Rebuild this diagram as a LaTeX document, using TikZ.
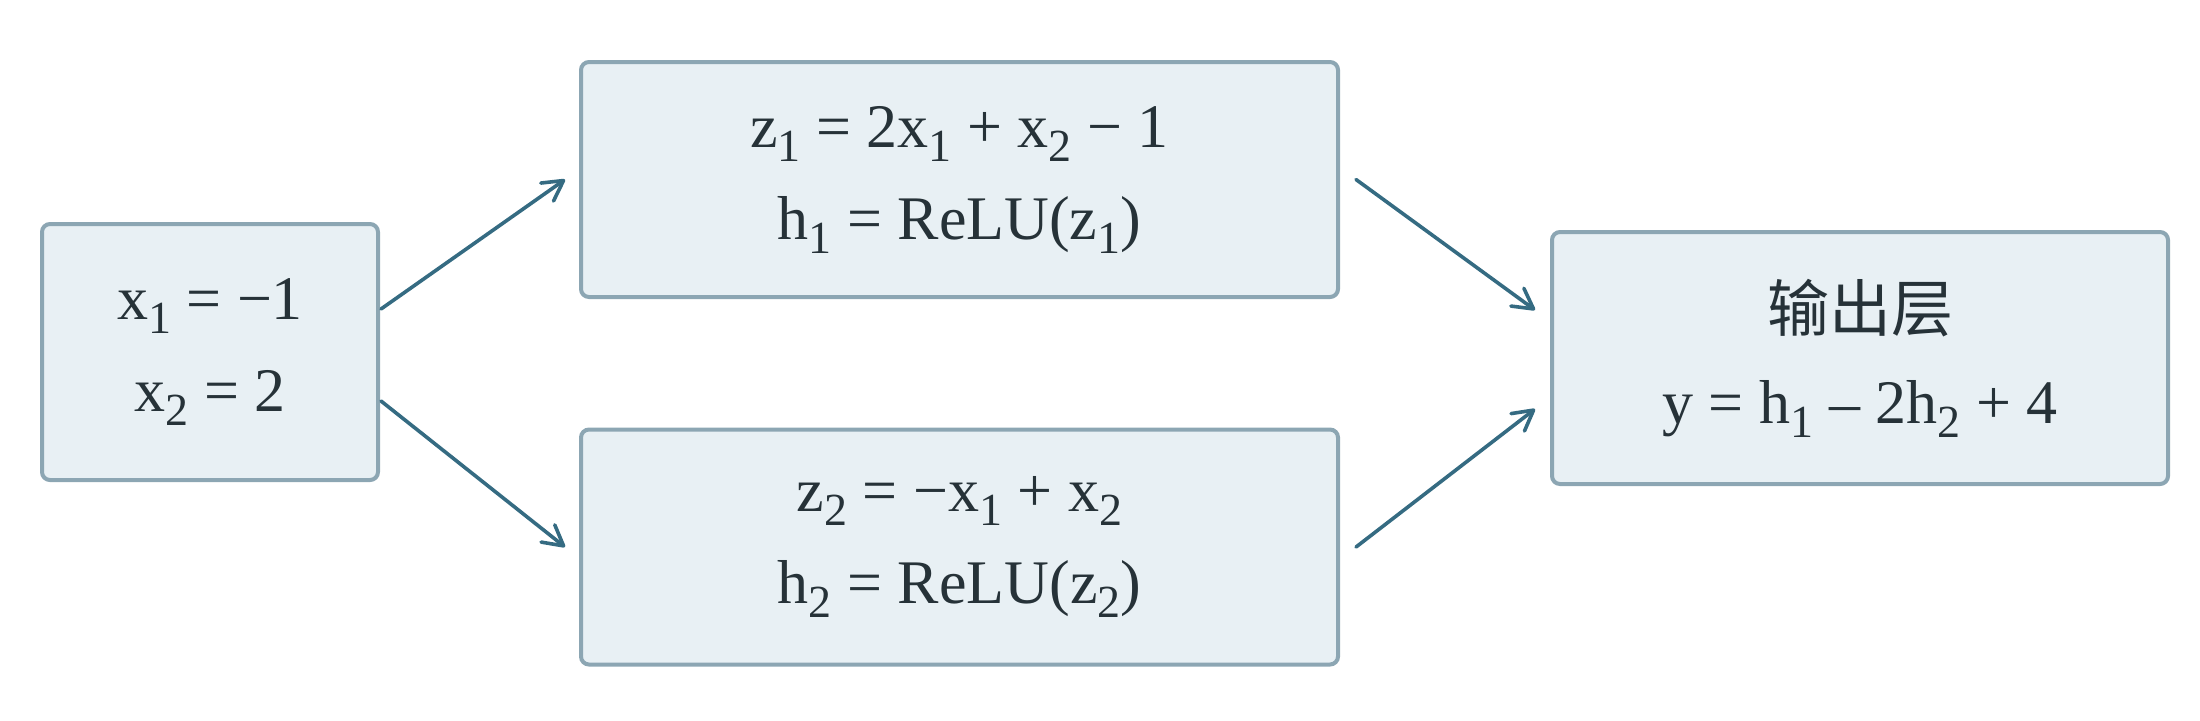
\documentclass[tikz,border=0pt]{standalone}
\usepackage{fontspec}
\setmainfont{Liberation Serif}
\newfontfamily\cjk{Noto Sans CJK SC}
\usetikzlibrary{arrows.meta,calc}
\definecolor{boxfill}{HTML}{E8F0F4}
\definecolor{boxline}{HTML}{8CA6B3}
\definecolor{arrowc}{HTML}{356B82}
\definecolor{txt}{HTML}{263238}
\newcommand\sbs[1]{\raisebox{-7pt}{\fontsize{23}{23}\selectfont #1}}
\begin{document}
\begin{tikzpicture}[x=0.5pt,y=-0.5pt,
  layerbox/.style={draw=boxline,fill=boxfill,line width=2pt,rounded corners=4pt,
    align=center,text=txt,inner sep=0pt,font=\fontsize{31}{46}\selectfont},
  conn/.style={draw=arrowc,line width=1.8pt,line cap=round,
    -{Straight Barb[length=10pt,width=11pt,line cap=round,line join=round]}}]
\useasboundingbox (0,0) rectangle (2200,720);
\node[layerbox,minimum width=168pt,minimum height=128pt] (in) at (210,352)
  {x\sbs{1} = −1\\x\sbs{2} = 2};
\node[layerbox,minimum width=378.5pt,minimum height=117.5pt] (hone) at (959.5,179.5)
  {z\sbs{1} = 2x\sbs{1} + x\sbs{2} − 1\\h\sbs{1} = ReLU(z\sbs{1})};
\node[layerbox,minimum width=378.5pt,minimum height=117.5pt] (htwo) at (959.5,547)
  {z\sbs{2} = −x\sbs{1} + x\sbs{2}\\h\sbs{2} = ReLU(z\sbs{2})};
\node[layerbox,minimum width=308pt,minimum height=126pt] (out) at (1860,358)
  {{\cjk 输出层}\\y = h\sbs{1} – 2h\sbs{2} + 4};
\coordinate (a1s) at ($(in.east)+(1,-43)$);
\coordinate (a2s) at ($(in.east)+(1,49)$);
\coordinate (a1e) at ($(hone.west)+(-14,0)$);
\coordinate (a2e) at ($(htwo.west)+(-14,0)$);
\coordinate (a3s) at ($(hone.east)+(16,0)$);
\coordinate (a4s) at ($(htwo.east)+(16,0)$);
\coordinate (a3e) at ($(out.west)+(-15,-48)$);
\coordinate (a4e) at ($(out.west)+(-15,51)$);
\draw[conn] (a1s) -- (a1e);
\draw[conn] (a2s) -- (a2e);
\draw[conn] (a3s) -- (a3e);
\draw[conn] (a4s) -- (a4e);
\end{tikzpicture}
\end{document}
